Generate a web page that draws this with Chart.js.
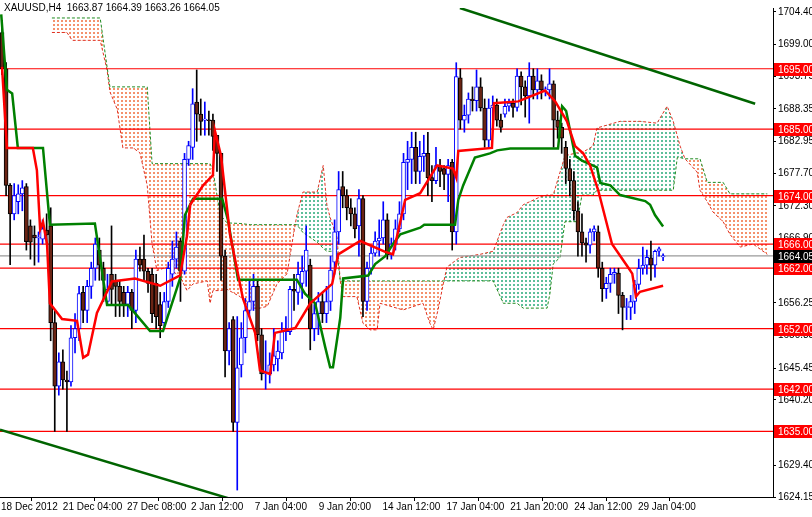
<!DOCTYPE html>
<html>
<head>
<meta charset="utf-8">
<script src="https://cdn.jsdelivr.net/npm/chart.js@4/dist/chart.umd.min.js"></script>
<style>
  html, body { margin: 0; padding: 0; background: #fff; }
  #c { display: block; }
</style>
</head>
<body>
<canvas id="c" width="812" height="517"></canvas>
<script>
// XAUUSD H4 candles, one entry per bar (bar index = position in array)
const opens = [1701,1695,1675.7,1671,1673,1674.3,1675.5,1669,1667.5,1667,1666.8,1668.3,1669,1653,1642.5,1646.5,1643.5,1643.2,1650.5,1652,1658,1655,1659,1662,1665,1662,1656.5,1661,1660,1659,1658,1656,1658,1655,1663.5,1663.5,1661.5,1661,1659.5,1656,1653,1656.5,1661,1663.5,1666.5,1661.5,1680,1682,1689.5,1687.5,1686.5,1686.5,1686.5,1684,1681,1664,1648.3,1653.5,1636.5,1646,1650.5,1655,1656.5,1659,1651,1644.5,1644.5,1646,1647,1648,1651.5,1651.5,1658.5,1658,1659.5,1661.5,1662.5,1652,1654.5,1656.5,1654.5,1656.5,1663,1668,1675.5,1674,1672,1671,1669,1673.5,1656.5,1662,1664.5,1666.5,1667,1670,1664.2,1666,1668.5,1671,1679.5,1680,1682,1678,1680.5,1681,1677,1676.5,1679,1678.5,1677.5,1679.5,1668,1693.5,1686.5,1687.3,1690,1689.7,1692,1688.5,1683.2,1688.5,1689,1686.5,1687.5,1688.8,1689.3,1688.6,1693.8,1692,1690.5,1693.8,1691.5,1693,1691.5,1691.5,1692.5,1686.5,1685.3,1682,1678.5,1676.5,1671.5,1668,1666.2,1665.8,1668,1668,1662,1658.6,1659.5,1661,1661.2,1657.5,1655.5,1655.5,1656.5,1659.3,1662,1662.5,1663.7,1662.5,1664.8,1663.87];
const highs = [1703,1696,1676,1676,1675.8,1676.5,1676,1670,1669,1668,1670,1671,1672,1655,1648,1648.5,1645,1652.5,1654.5,1659,1659,1660,1663,1667,1667,1663,1661,1669,1661,1660,1659,1659,1658.5,1665,1665.5,1667.5,1662,1662,1661,1658,1658,1663,1666.5,1668,1667,1681,1683,1691.7,1694.8,1690,1689.5,1688,1687.5,1684,1681,1665,1653,1654,1654,1653,1657,1660,1661,1660,1652,1650,1648,1652,1650,1653,1654,1659,1661,1663,1664,1669,1663.5,1656,1658,1658,1659,1664,1670,1678,1678,1675,1673.5,1672,1675,1674,1663,1665.5,1668,1670,1673,1671,1667,1670,1673,1681,1683,1684.5,1684.5,1683,1684,1684.5,1679,1682,1680,1679,1680,1680,1696,1695,1689,1691,1692,1694.8,1693.5,1690,1690,1690.5,1690,1687.5,1690,1690,1690,1695,1694.5,1693,1696,1695,1695,1694,1692,1695,1693,1688,1686,1683,1680,1678,1673,1671,1667,1668.5,1669,1669,1663,1660.5,1662,1662,1662,1658,1657,1657.5,1660,1663.5,1665.5,1665,1666.5,1665,1665.5,1664.39];
const lows = [1694,1674,1662.6,1670,1671,1671.5,1665,1663.5,1662.5,1663,1666,1666,1650,1635,1641,1642,1635,1642.5,1648,1650,1653,1653,1657,1660,1660,1656.5,1656,1656,1654,1654,1654,1654,1652,1653,1661.5,1660,1658,1653,1652,1650.5,1652,1655.5,1659,1662,1656.5,1661,1679,1680,1683,1684,1684,1684,1681.5,1678,1660,1644,1646,1635,1625.3,1644,1648,1654,1655,1650,1643.5,1642,1643,1645,1645,1647,1650,1651,1655,1656,1657,1659,1648.5,1650,1651,1653,1653,1655,1661,1666,1672,1670,1669,1667,1664,1654,1655,1661,1664,1664,1666,1663.5,1663.5,1665,1668,1670,1675,1676,1676,1676,1678,1674,1673,1676,1675.5,1675,1673,1665,1666,1685,1684.5,1686,1688,1688,1688,1682,1682,1686.5,1685.5,1684.5,1687,1688,1687,1688,1689,1687,1686,1690,1690,1690,1690.5,1690,1682,1683.5,1681,1676,1674,1670,1664,1664,1663,1664.5,1666.5,1660.5,1656.5,1657,1658,1659.5,1654.5,1651.8,1653.5,1653.5,1654.5,1658.5,1661,1661,1660,1660.5,1664,1663.26];
const closes = [1695,1675.7,1671,1674,1674.3,1675.3,1666.4,1666.3,1667,1667,1668.5,1667.5,1653,1642.5,1646.5,1643.5,1643.2,1650.5,1652,1657.8,1655,1659,1662,1666,1662.5,1660,1658.5,1658.5,1659,1656.5,1656,1658,1655,1663.5,1662.5,1661.5,1659.5,1654.5,1654,1652.5,1656.5,1662,1663.5,1665.5,1661.5,1680,1682.3,1689.2,1687.5,1686.3,1686.5,1686.4,1683.8,1681,1664,1648.3,1652,1636.5,1645.5,1650.5,1655,1656.5,1659,1651,1644.5,1644.5,1646,1647.5,1648.3,1651.5,1651.8,1658.5,1658.2,1661,1661.5,1665,1652,1654.5,1656.5,1654.5,1656.5,1661.7,1668,1675,1674,1672,1671,1668.5,1673.5,1656.5,1662,1664.5,1666.5,1667,1670,1664.2,1666,1668.5,1671,1679.5,1680,1682,1678,1680.5,1681,1677,1676.5,1679,1678,1677.5,1679,1668,1693.7,1686.5,1687.3,1690,1689.7,1692,1688.5,1683.2,1688.5,1689,1686.5,1685.3,1688.8,1689.3,1688.6,1693.8,1692,1690.5,1693.8,1691.5,1693,1691.5,1691.5,1692.5,1686.5,1685.3,1683.5,1678.5,1676.5,1671.5,1668,1666.2,1665.8,1668,1668.5,1662,1658.6,1659.5,1661,1661.3,1657.5,1655.5,1655.5,1656.5,1659.3,1662,1662.5,1663.8,1662.5,1664.8,1665.2,1664.05];

// Ichimoku lines (bar index, price)
const tenkanBar = [0,1.2,7.6,8.6,9.4,10.1,11.1,11.8,14.8,18.5,20,21.2,23.4,27.1,32.8,39,43.9,45.6,46.4,49.6,52,52.5,54,56.2,59.4,62.4,63.6,66.1,67.3,72.3,76,81.4,82.9,88.3,94.5,96.4,99.4,103.1,107.3,111.2,112,112.5,120.8,121.3,127.3,133.9,136.4,139.3,141.3,143.3,145,147,150.4,154.1,155.4,156.3,157.3,163];
const tenkanVal = [1695.3,1681.9,1681.9,1678.2,1668.4,1669.7,1666,1656.2,1653.6,1653.3,1647.2,1647.7,1654.6,1659.8,1660.3,1659.1,1660.8,1667.3,1672.5,1675.7,1677.4,1684.7,1680.6,1667.6,1657,1651.3,1645.1,1644.5,1651.3,1652.1,1656.2,1659.4,1664.3,1666.5,1664.7,1664.3,1673.3,1674.4,1679,1678.5,1677,1681.4,1681.9,1689.3,1689.6,1691.4,1689.6,1686.3,1682.2,1681,1679,1674.9,1666,1662.4,1661.1,1657.3,1658.1,1659.1];
const kijunBar = [-0.2,1.2,2.5,3.9,10.1,11.8,22.9,25.9,31.1,36.5,39.7,43.9,45.1,47.1,54.3,55.7,58.2,72.7,74.7,77.2,79.7,80.9,81.6,83.4,84.1,90.3,92,94.5,96.4,98.2,103.1,104.1,111.7,112.5,113.7,116.6,120.3,122.1,125.3,137.1,138.1,139.1,141.3,143,146.7,147.5,150,152.4,158.6,159.8,161,163];
const kijunVal = [1704,1691.5,1690.9,1681.9,1681.9,1669.2,1669.4,1655.9,1655.9,1651.6,1651.6,1660.3,1670.8,1673.5,1673.5,1670,1660.1,1660.1,1657.8,1656.2,1648.9,1645.6,1645.6,1653.8,1660.3,1660.8,1662.7,1664,1666,1667.6,1668.7,1669.2,1669.2,1673.3,1675.7,1680.3,1681,1681.5,1681.8,1681.8,1688.8,1688,1680.6,1679.8,1678.7,1676.1,1675.7,1674.1,1673.1,1672.5,1670.8,1668.9];
const cloudBar = [12.3,16,17.3,24.2,25.9,26.6,28.4,29.8,32.3,34,35.8,37,38.2,40.7,43.9,45.6,47.1,50.6,51.3,52,53.8,55.5,58.7,61.2,63.6,65.4,67.8,70.3,71.8,72.7,74.2,77.7,79.2,80.1,80.9,82.6,83.4,84.1,87.5,89,90.8,92.5,93.2,98.9,103.8,105.5,106.3,107.5,108.8,109.7,112.9,117.9,121.1,123.6,124.5,127,128.5,132.7,134.4,135.1,135.9,137.6,138.8,141.8,143,145.7,146.7,152.4,157.3,161.5,164,165.5,166.5,167.2,168.4,171.4,172.1,173.9,175.3,177.8,179.5,182,185.2,188.7];
const spanA = [1701,1701,1699.7,1699.7,1694.8,1691.2,1688.3,1681.9,1681.9,1681.1,1675.7,1666,1661.6,1662.2,1660.6,1658.3,1659.4,1659.9,1656.2,1658.3,1658.3,1658.5,1657.3,1655.4,1655.4,1655.7,1659.4,1661.1,1667.3,1670.8,1674.6,1674.6,1679,1672.5,1670.4,1667.1,1659.9,1657.3,1657.3,1652.9,1651.8,1651.8,1656.2,1655.1,1656.2,1652.9,1651.8,1655.1,1659.4,1662.2,1663.8,1664.3,1664.8,1669.2,1670.4,1671.2,1672.5,1673.8,1674.1,1674.1,1674.1,1677.9,1680.6,1681.1,1681.1,1682.2,1685.2,1686.3,1686.3,1686,1688.8,1686.3,1683.9,1682.2,1680.1,1677.9,1674.9,1673,1671.3,1669.7,1667.6,1665.5,1666,1664.3];
const spanB = [1703.4,1703.4,1703.4,1703.4,1695.3,1692,1692,1692,1692,1692,1692,1679.3,1679.3,1679.3,1679.3,1679.3,1679.3,1679.3,1679.3,1678.2,1670.8,1669.5,1669.4,1669.2,1669.2,1669.2,1669.2,1669.2,1669.2,1669.2,1667.9,1666.3,1665.3,1664.8,1664.8,1664.8,1659.9,1659.9,1659.9,1659.9,1659.9,1659.9,1659.9,1659.9,1659.9,1659.9,1659.9,1659.9,1659.9,1659.9,1659.9,1659.9,1659.9,1656.2,1656.2,1656.2,1655.4,1655.4,1655.4,1657.8,1662.7,1663.8,1669.7,1669.7,1674.1,1674.1,1674.9,1674.9,1674.9,1674.9,1674.9,1674.9,1680.3,1680.3,1680.1,1680.1,1680.1,1676.2,1676.2,1676.2,1674.3,1674.3,1674.3,1674.3];

// trend lines (bar, price) pairs
const upperTrendBar = [112.9, 185.7];
const upperTrendVal = [1705.05, 1689.2];
const lowerTrendBar = [-0.5, 57.5];
const lowerTrendVal = [1635.3, 1623.6];

const levels = [1695, 1685, 1674, 1666, 1662, 1652, 1642, 1635];
const lastPrice = 1664.05;
const yTicks = [1704.40,1699.00,1693.75,1688.35,1682.95,1677.70,1672.30,1666.90,1661.50,1656.25,1650.85,1645.45,1640.20,1634.80,1629.40,1624.15];
const xTickBars = [-0.25, 15.0, 30.8, 46.6, 62.3, 78.1, 93.8, 109.6, 125.3, 141.1, 156.8];
const xTickLabels = ['18 Dec 2012','21 Dec 04:00','27 Dec 08:00','2 Jan 12:00','7 Jan 04:00','9 Jan 20:00','14 Jan 12:00','17 Jan 04:00','21 Jan 20:00','24 Jan 12:00','29 Jan 04:00'];
const title = 'XAUUSD,H4  1663.87 1664.39 1663.26 1664.05';

const FONT = 'Liberation Sans, Arial, sans-serif';
const X_MIN = -0.5, X_MAX = 190.1;

function dotPattern(color) {
    const t = document.createElement('canvas');
    t.width = 4; t.height = 4;
    const g = t.getContext('2d');
    g.fillStyle = color;
    g.fillRect(1, 0, 2, 2);
    return document.getElementById('c').getContext('2d').createPattern(t, 'repeat');
}

const isUp = opens.map((o, i) => closes[i] >= o);
const pairs = (xs, ys) => xs.map((x, i) => ({ x: x, y: ys[i] }));
const hline = (v, color, order) => ({
    type: 'line', data: [{ x: X_MIN, y: v }, { x: X_MAX, y: v }], order: order,
    borderColor: color, borderWidth: 1.2, pointRadius: 0, fill: false,
});

const overlay = {
    id: 'overlay',
    afterDraw(chart) {
        const ctx = chart.ctx, a = chart.chartArea, y = chart.scales.y;
        ctx.save();
        ctx.font = '10px ' + FONT;
        ctx.textBaseline = 'middle';
        ctx.textAlign = 'left';
        function box(v, bg) {
            const py = Math.round(y.getPixelForValue(v));
            ctx.fillStyle = bg;
            ctx.fillRect(a.right + 1, py - 6, 40, 13);
            ctx.fillStyle = '#fff';
            ctx.fillText(v.toFixed(2), a.right + 5, py + 1);
        }
        levels.forEach(function (v) { box(v, '#ff0000'); });
        box(lastPrice, '#000');
        ctx.fillStyle = '#000';
        ctx.fillText(title, 4, 8);
        ctx.restore();
    }
};

const datasets = [
    {
        type: 'line', data: pairs(cloudBar, spanA), order: 9,
        borderColor: '#e03020', borderWidth: 1, borderDash: [3, 2], pointRadius: 0,
        fill: { target: '+1', above: dotPattern('rgba(40,170,120,0.75)'), below: dotPattern('rgba(240,110,60,0.75)') },
    },
    {
        type: 'line', data: pairs(cloudBar, spanB), order: 8,
        borderColor: '#1e8a1e', borderWidth: 1, borderDash: [3, 2], pointRadius: 0, fill: false,
    },
];
levels.forEach(function (v) { datasets.push(hline(v, '#ff0000', 7)); });
datasets.push(hline(lastPrice, '#9a9a9a', 7));
datasets.push(
    {
        data: lows.map((l, i) => ({ x: i, y: [l, highs[i]] })), order: 5, grouped: false,
        barThickness: 1, backgroundColor: isUp.map(u => u ? '#0000ff' : '#000'),
    },
    {
        data: opens.map((o, i) => ({ x: i, y: [o, closes[i]] })), order: 4, grouped: false,
        barThickness: 4, minBarLength: 1, borderSkipped: false, borderWidth: 1,
        backgroundColor: isUp.map(u => u ? '#ffffff' : '#6a2414'),
        borderColor: isUp.map(u => u ? '#0000ff' : '#000'),
    },
    {
        type: 'line', data: pairs(kijunBar, kijunVal), order: 2,
        borderColor: '#008000', borderWidth: 2.5, pointRadius: 0,
    },
    {
        type: 'line', data: pairs(tenkanBar, tenkanVal), order: 1,
        borderColor: '#ff0000', borderWidth: 2.5, pointRadius: 0,
    },
    {
        type: 'line', data: pairs(upperTrendBar, upperTrendVal), order: 0,
        borderColor: '#006400', borderWidth: 2.5, pointRadius: 0,
    },
    {
        type: 'line', data: pairs(lowerTrendBar, lowerTrendVal), order: 0,
        borderColor: '#006400', borderWidth: 2.5, pointRadius: 0,
    }
);

new Chart(document.getElementById('c'), {
    type: 'bar',
    data: { datasets: datasets },
    options: {
        responsive: false,
        animation: false,
        devicePixelRatio: 1,
        layout: { padding: 0 },
        plugins: { legend: { display: false }, tooltip: { enabled: false } },
        scales: {
            x: {
                type: 'linear', min: X_MIN, max: X_MAX, offset: false,
                afterFit: function (s) { s.height = 20; },
                afterBuildTicks: function (s) { s.ticks = xTickBars.map(v => ({ value: v })); },
                grid: { drawOnChartArea: false, color: '#000', tickLength: 4 },
                border: { color: '#000' },
                ticks: {
                    autoSkip: false, maxRotation: 0, align: 'start', padding: 0,
                    color: '#000', font: { family: FONT, size: 10 },
                    callback: (v, i) => xTickLabels[i],
                },
            },
            y: {
                position: 'right', min: 1624.15, max: 1705.05,
                afterFit: function (s) { s.width = 39; },
                afterBuildTicks: function (s) { s.ticks = yTicks.map(v => ({ value: v })); },
                grid: { drawOnChartArea: false, color: '#000', tickLength: 3 },
                border: { color: '#000' },
                ticks: {
                    padding: 2, color: '#000', font: { family: FONT, size: 10 },
                    callback: v => v.toFixed(2),
                },
            },
        },
    },
    plugins: [overlay],
});
</script>
</body>
</html>
